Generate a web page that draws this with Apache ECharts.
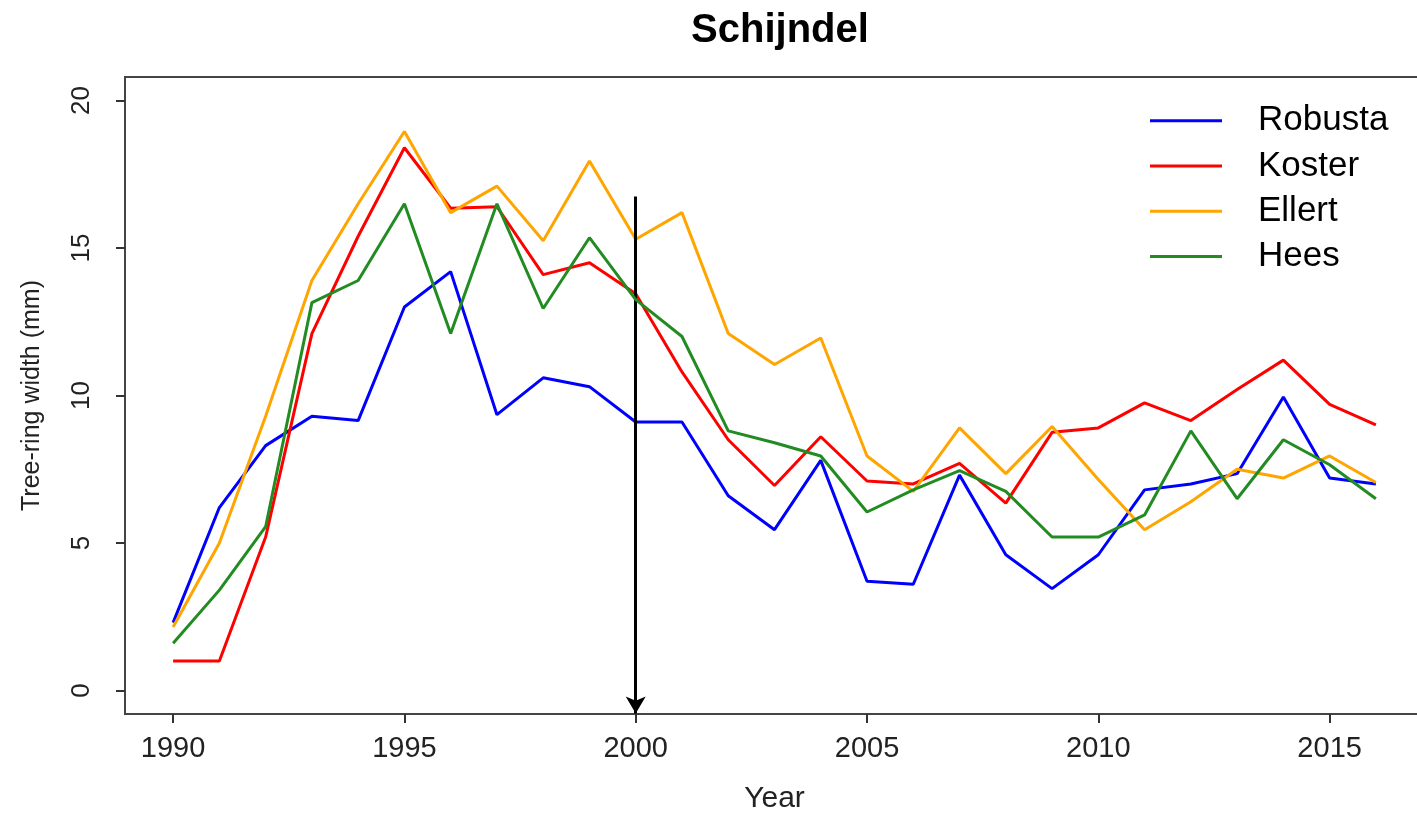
<!DOCTYPE html>
<html>
<head>
<meta charset="utf-8">
<script src="https://cdn.jsdelivr.net/npm/echarts@6/dist/echarts.min.js"></script>
<style>html,body{margin:0;padding:0;background:#fff;overflow:hidden;}#c{width:1430px;height:819px;}</style>
</head>
<body>
<div id="c"></div>
<script>
const years = [1990,1991,1992,1993,1994,1995,1996,1997,1998,1999,2000,2001,2002,2003,2004,2005,2006,2007,2008,2009,2010,2011,2012,2013,2014,2015,2016];
const robusta = [2.3,6.2,8.3,9.3,9.15,13.0,14.2,9.35,10.6,10.3,9.1,9.1,6.6,5.45,7.8,3.7,3.6,7.3,4.6,3.45,4.6,6.8,7.0,7.35,9.95,7.2,7.0];
const koster = [1.0,1.0,5.2,12.1,15.4,18.4,16.35,16.4,14.1,14.5,13.45,10.8,8.5,6.95,8.6,7.1,7.0,7.7,6.35,8.75,8.9,9.75,9.15,10.2,11.2,9.7,9.0];
const ellert = [2.15,5.0,9.3,13.9,16.5,18.95,16.2,17.1,15.25,17.95,15.3,16.2,12.1,11.05,11.95,7.95,6.75,8.9,7.35,8.95,7.15,5.45,6.4,7.5,7.2,7.95,7.05];
const hees = [1.6,3.4,5.55,13.15,13.9,16.5,12.1,16.5,12.95,15.35,13.25,12.0,8.8,8.4,7.95,6.05,6.8,7.45,6.75,5.2,5.2,5.95,8.8,6.5,8.5,7.65,6.5];
const xTicks = [1990,1995,2000,2005,2010,2015];
const yTicks = [0,5,10,15,20];
const seriesNames = ['Robusta','Koster','Ellert','Hees'];
const seriesColors = ['#0000FF','#FF0000','#FFA500','#228B22'];
const arrowYear = 2000, arrowFrom = 16.75, arrowTo = -0.78;

const FONT = "'Liberation Sans', Arial, sans-serif";
const allData = [robusta, koster, ellert, hees];
const chart = echarts.init(document.getElementById('c'));
const series = allData.map((vals, i) => ({
  name: seriesNames[i],
  type: 'line',
  data: years.map((y, j) => [y, vals[j]]),
  symbol: 'none',
  showSymbol: false,
  lineStyle: { color: seriesColors[i], width: 3 },
  itemStyle: { color: seriesColors[i] },
  z: 2 + i,
  animation: false
}));
series.push({
  name: 'arrow',
  type: 'line',
  data: [],
  z: 10,
  markLine: {
    silent: true,
    animation: false,
    symbol: ['none', 'arrow'],
    symbolSize: [15, 17],
    label: { show: false },
    lineStyle: { color: '#000', width: 3, type: 'solid' },
    data: [[{ coord: [arrowYear, arrowFrom] }, { coord: [arrowYear, arrowTo] }]]
  }
});

chart.setOption({
  backgroundColor: '#fff',
  animation: false,
  title: {
    text: 'Schijndel',
    left: 775, top: 6, textAlign: 'center',
    textStyle: { fontFamily: FONT, fontSize: 40, fontWeight: 'bold', color: '#000' }
  },
  legend: {
    data: seriesNames.map((n, i) => ({ name: n, icon: 'rect', itemStyle: { color: seriesColors[i] } })),
    orient: 'vertical',
    left: 1150, top: 98,
    padding: 0,
    itemGap: 0,
    itemWidth: 72,
    itemHeight: 3,
    textStyle: { fontFamily: FONT, fontSize: 35, color: '#000', lineHeight: 45.3, padding: [0, 0, 0, 31] }
  },
  grid: {
    left: 125, top: 77, right: 6, bottom: 105,
    show: true, borderColor: '#444', borderWidth: 2, backgroundColor: 'transparent'
  },
  xAxis: {
    type: 'value',
    min: 1988.96, max: 2017.04,
    name: 'Year', nameLocation: 'middle', nameGap: 70,
    nameTextStyle: { fontFamily: FONT, fontSize: 30, color: '#222' },
    axisLine: { show: false, onZero: false },
    axisTick: { show: true, customValues: xTicks, length: 9, inside: false, lineStyle: { color: '#333', width: 2 } },
    axisLabel: { customValues: xTicks, margin: 20, fontFamily: FONT, fontSize: 29, color: '#222', formatter: v => String(v) },
    splitLine: { show: false }
  },
  yAxis: {
    type: 'value',
    min: -0.8, max: 20.8,
    name: 'Tree-ring width (mm)', nameLocation: 'middle', nameGap: 80, nameRotate: 90,
    nameTextStyle: { fontFamily: FONT, fontSize: 25, color: '#222' },
    axisLine: { show: false, onZero: false },
    axisTick: { show: true, customValues: yTicks, length: 9, lineStyle: { color: '#333', width: 2 } },
    axisLabel: { customValues: yTicks, rotate: 90, margin: 30, fontFamily: FONT, fontSize: 26, color: '#222', formatter: v => String(v) },
    splitLine: { show: false }
  },
  series: series
});
</script>
</body>
</html>
